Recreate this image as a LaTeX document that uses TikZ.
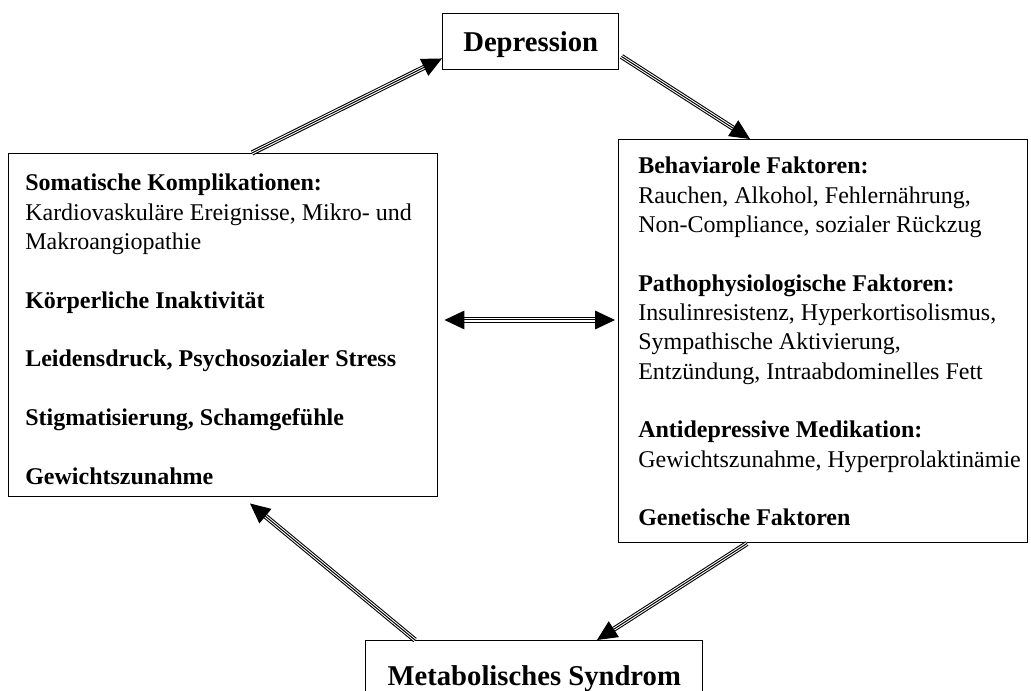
\documentclass[tikz,border=0pt]{standalone}
\usepackage{fontspec}
\setmainfont{Liberation Serif}
\usetikzlibrary{arrows.meta,calc}

\begin{document}
\begin{tikzpicture}[
 x=0.75pt,y=-0.75pt,
 every node/.style={font=\fontsize{18}{22}\selectfont},
 box/.style={draw,line width=1.1pt,anchor=north west,inner sep=0pt},
 title/.style={font=\fontsize{21.5}{26}\selectfont\bfseries,text depth=0pt},
 list/.style={anchor=north west,align=left,inner sep=0pt},
 link/.style={line width=0.75pt,-{Triangle[length=15pt,width=14pt]},
  preaction={draw,line width=3.9pt,-,shorten >=13pt},
  preaction={draw,white,line width=2.3pt,-,shorten >=13pt}},
 linkboth/.style={line width=0.75pt,
  {Triangle[length=15pt,width=14pt]}-{Triangle[length=15pt,width=14pt]},
  preaction={draw,line width=3.9pt,-,shorten >=13pt,shorten <=13pt},
  preaction={draw,white,line width=2.3pt,-,shorten >=13pt,shorten <=13pt}}
]
 \useasboundingbox (0,0) rectangle (1031,691);

 \node[box,title,minimum width=132pt,minimum height=42pt] (dep) at (442,13) {Depression};
 \node[box,minimum width=321.75pt,minimum height=257.25pt] (lbox) at (8,153) {};
 \node[box,minimum width=306.75pt,minimum height=302.25pt] (rbox) at (618,139) {};
 \node[box,title,minimum width=252.75pt,minimum height=52.5pt] (met) at (365,640)
  {Metabolisches Syndrom};

 % left box: consequences of the metabolic syndrome
 \node[list] (ltxt) at ($(lbox.north west)+(17,21)$)
  {\textbf{Somatische Komplikationen:}\\
   Kardiovaskuläre Ereignisse, Mikro- und\\
   Makroangiopathie\\[22pt]
   \textbf{Körperliche Inaktivität}\\[22pt]
   \textbf{Leidensdruck, Psychosozialer Stress}\\[22pt]
   \textbf{Stigmatisierung, Schamgefühle}\\[22pt]
   \textbf{Gewichtszunahme}};

 % right box: mediating factors
 \node[list] (rtxt) at ($(rbox.north west)+(20,18)$)
  {\textbf{Behaviarole Faktoren:}\\
   Rauchen, Alkohol, Fehlernährung,\\
   Non-Compliance, sozialer Rückzug\\[22pt]
   \textbf{Pathophysiologische Faktoren:}\\
   Insulinresistenz, Hyperkortisolismus,\\
   Sympathische Aktivierung,\\
   Entzündung, Intraabdominelles Fett\\[22pt]
   \textbf{Antidepressive Medikation:}\\
   Gewichtszunahme, Hyperprolaktinämie\\[22pt]
   \textbf{Genetische Faktoren}};

 \draw[link] ($(lbox.north west)+(244,0)$) -- ($(dep.south west)+(0,-12)$);
 \draw[link] ($(dep.south east)+(2,-14)$) -- ($(rbox.north west)+(132,0)$);
 \draw[linkboth] ($(lbox.north east)+(6,167)$) -- ($(rbox.north west)+(-3,181)$);
 \draw[link] ($(rbox.south west)+(129,0)$) -- ($(met.north west)+(232,0)$);
 \draw[link] ($(met.north west)+(50,0)$) -- ($(lbox.south west)+(242,6)$);
\end{tikzpicture}
\end{document}
